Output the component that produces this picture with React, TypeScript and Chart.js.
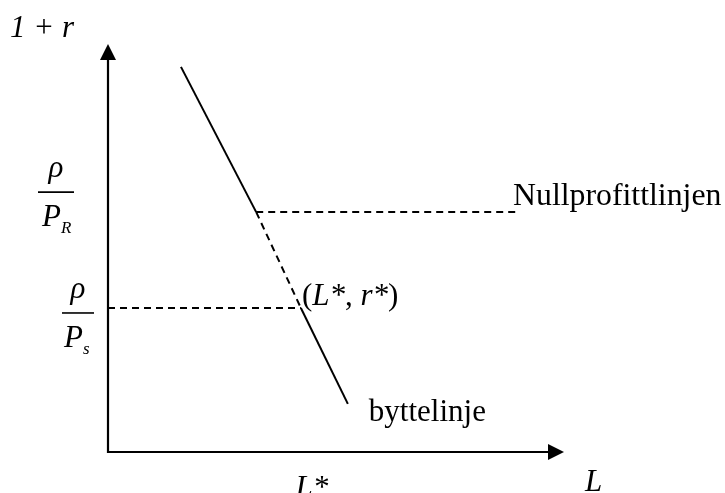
import React, { useEffect, useRef } from "react";
import { Chart, registerables } from "chart.js";

Chart.register(...registerables);

// Axis ranges (abstract units for L and 1 + r)
const L_MAX = 100;
const R_MAX = 100;

// Exchange curve (byttelinje): top end, crossing with zero-profit line, equilibrium, bottom end
const exchangeL = [16.0, 32.5, 42.3, 52.6];
const exchangeR = [94.4, 58.8, 35.3, 11.8];

// Zero-profit line (Nullprofittlinjen) at rho / P_R
const zeroProfitL = [32.5, 89.7];
const zeroProfitR = [58.8, 58.8];

// Guide from the vertical axis to the equilibrium at rho / P_s
const guideL = [0, 42.3];
const guideR = [35.3, 35.3];

// Tick labels
const xTickValues = [42.3];
const xTickLabels = ["L*"];
const yTickValues = [58.8, 35.3];
const yTickNumerators = ["ρ", "ρ"];
const yTickDenominators = ["P", "P"];
const yTickSubscripts = ["R", "s"];

const SERIF = '"Liberation Serif", "Times New Roman", serif';

const pts = (xs: number[], ys: number[]) => xs.map((x, i) => ({ x, y: ys[i] }));

export default function App() {
  const ref = useRef<HTMLCanvasElement | null>(null);

  useEffect(() => {
    const canvas = ref.current;
    if (!canvas) return;

    const diagramPlugin = {
      id: "diagram",
      beforeDatasetsDraw(chart: any) {
        const { ctx } = chart;
        const xs = chart.scales.x;
        const ys = chart.scales.y;
        const x0 = xs.getPixelForValue(0);
        const y0 = ys.getPixelForValue(0);
        const xEnd = xs.getPixelForValue(L_MAX);
        const yTop = ys.getPixelForValue(R_MAX);
        ctx.save();
        ctx.strokeStyle = "#000";
        ctx.fillStyle = "#000";
        ctx.lineWidth = 2.2;
        // vertical axis
        ctx.beginPath();
        ctx.moveTo(x0, y0 + 1);
        ctx.lineTo(x0, yTop + 12);
        ctx.stroke();
        ctx.beginPath();
        ctx.moveTo(x0 - 8, yTop + 16);
        ctx.lineTo(x0 + 8, yTop + 16);
        ctx.lineTo(x0, yTop);
        ctx.closePath();
        ctx.fill();
        // horizontal axis
        ctx.beginPath();
        ctx.moveTo(x0 - 1, y0);
        ctx.lineTo(xEnd - 12, y0);
        ctx.stroke();
        ctx.beginPath();
        ctx.moveTo(xEnd - 16, y0 - 8);
        ctx.lineTo(xEnd - 16, y0 + 8);
        ctx.lineTo(xEnd, y0);
        ctx.closePath();
        ctx.fill();
        ctx.restore();
      },
      afterDatasetsDraw(chart: any) {
        const { ctx } = chart;
        const xs = chart.scales.x;
        const ys = chart.scales.y;
        const x0 = xs.getPixelForValue(0);
        const y0 = ys.getPixelForValue(0);
        const xEnd = xs.getPixelForValue(L_MAX);
        const yTop = ys.getPixelForValue(R_MAX);
        const italic = `italic 31px ${SERIF}`;
        const upright = `31px ${SERIF}`;
        ctx.save();
        ctx.fillStyle = "#000";
        ctx.strokeStyle = "#000";
        ctx.textBaseline = "alphabetic";

        // axis titles
        ctx.font = italic;
        ctx.textAlign = "left";
        ctx.fillText("1 + r", x0 - 98, yTop - 7);
        ctx.fillText("L", xEnd + 21, y0 + 39);

        // x tick labels
        ctx.textAlign = "center";
        xTickValues.forEach((v, i) => {
          ctx.fillText(xTickLabels[i], xs.getPixelForValue(v) + 11, y0 + 45);
        });

        // y tick labels as fractions
        const fracLayout = [
          { cx: x0 - 52, dy: -20, w: 36 },
          { cx: x0 - 30, dy: 5, w: 32 },
        ];
        yTickValues.forEach((v, i) => {
          const f = fracLayout[i];
          const bar = ys.getPixelForValue(v) + f.dy;
          ctx.lineWidth = 1.6;
          ctx.beginPath();
          ctx.moveTo(f.cx - f.w / 2, bar);
          ctx.lineTo(f.cx + f.w / 2, bar);
          ctx.stroke();
          ctx.font = italic;
          ctx.textAlign = "center";
          ctx.fillText(yTickNumerators[i], f.cx, bar - 15);
          ctx.textAlign = "right";
          ctx.fillText(yTickDenominators[i], f.cx + 5, bar + 34);
          ctx.font = `italic 17px ${SERIF}`;
          ctx.textAlign = "left";
          ctx.fillText(yTickSubscripts[i], f.cx + 5, bar + 41);
        });

        // curve labels
        ctx.textAlign = "left";
        ctx.font = `31.8px ${SERIF}`;
        const zpEnd = zeroProfitL.length - 1;
        ctx.fillText(
          "Nullprofittlinjen",
          xs.getPixelForValue(zeroProfitL[zpEnd]) - 4,
          ys.getPixelForValue(zeroProfitR[zpEnd]) - 7
        );
        ctx.font = upright;
        const exEnd = exchangeL.length - 1;
        ctx.fillText(
          "byttelinje",
          xs.getPixelForValue(exchangeL[exEnd]) + 21,
          ys.getPixelForValue(exchangeR[exEnd]) + 17
        );

        // equilibrium label: upright brackets and comma, italic symbols
        let px = xs.getPixelForValue(exchangeL[2]) + 1;
        const py = ys.getPixelForValue(exchangeR[2]) - 3;
        const parts: [string, string][] = [
          ["(", upright],
          ["L*", italic],
          [", ", upright],
          ["r*", italic],
          [")", upright],
        ];
        parts.forEach(([t, f]) => {
          ctx.font = f;
          ctx.fillText(t, px, py);
          px += ctx.measureText(t).width;
        });
        ctx.restore();
      },
    };

    const chart = new Chart(canvas, {
      type: "scatter",
      data: {
        datasets: [
          {
            data: pts(exchangeL, exchangeR),
            showLine: true,
            borderColor: "#000",
            borderWidth: 2,
            pointRadius: 0,
            segment: {
              borderDash: (c: any) => (c.p0DataIndex === 1 ? [7, 5] : undefined),
            },
          },
          {
            data: pts(zeroProfitL, zeroProfitR),
            showLine: true,
            borderColor: "#000",
            borderWidth: 2,
            borderDash: [7, 5],
            pointRadius: 0,
          },
          {
            data: pts(guideL, guideR),
            showLine: true,
            borderColor: "#000",
            borderWidth: 2,
            borderDash: [7, 5],
            pointRadius: 0,
          },
        ],
      },
      options: {
        responsive: false,
        animation: false,
        devicePixelRatio: 1,
        layout: { padding: { left: 108, right: 161, top: 44, bottom: 41 } },
        plugins: { legend: { display: false }, tooltip: { enabled: false } },
        scales: {
          x: { type: "linear", min: 0, max: L_MAX, display: false },
          y: { type: "linear", min: 0, max: R_MAX, display: false },
        },
      },
      plugins: [diagramPlugin],
    } as any);

    return () => chart.destroy();
  }, []);

  return (
    <div style={{ position: "fixed", left: 0, top: 0, width: 725, height: 493, background: "#fff" }}>
      <canvas ref={ref} width={725} height={493} style={{ display: "block" }} />
    </div>
  );
}
